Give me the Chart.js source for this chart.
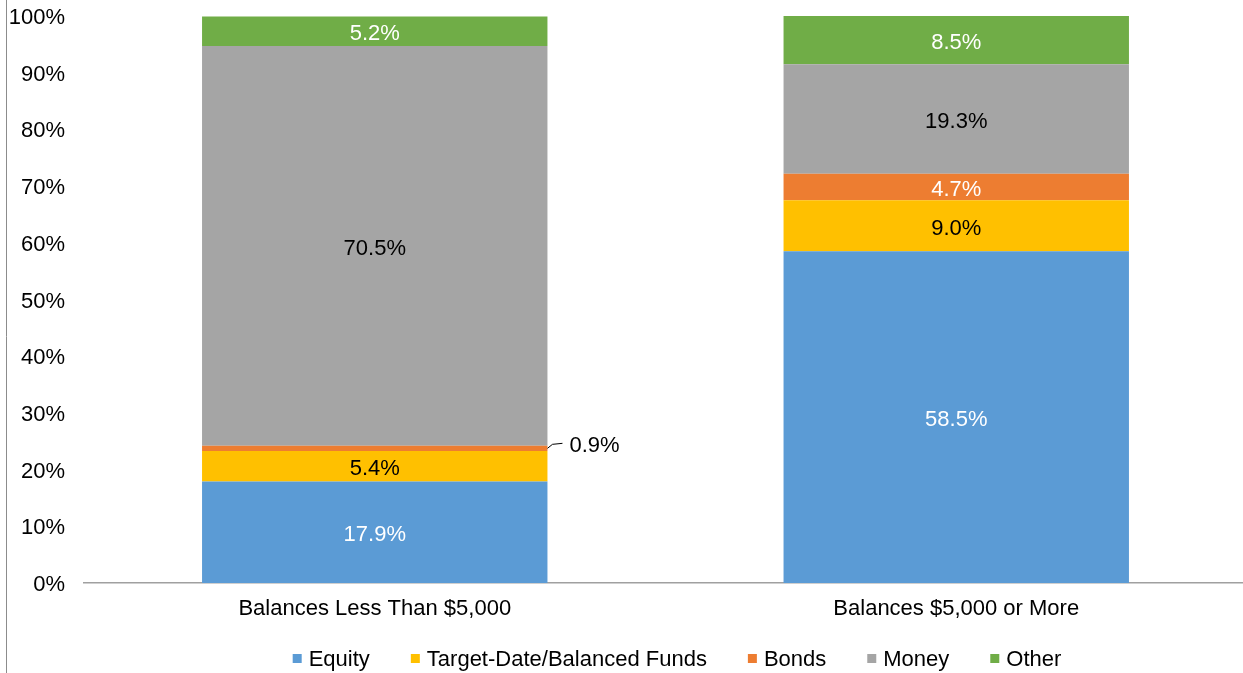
<!DOCTYPE html>
<html>
<head>
<meta charset="utf-8">
<script src="https://cdn.jsdelivr.net/npm/chart.js@4"></script>
<style>
  html, body { margin: 0; padding: 0; background: #fff; overflow: hidden; }
  #wrap { width: 1243px; height: 673px; overflow: hidden; }
</style>
</head>
<body>
<div id="wrap"><canvas id="assetChart" width="1247" height="673"></canvas></div>
<script>
// Asset allocation by account balance (percent of assets)
const categories = ["Balances Less Than $5,000", "Balances $5,000 or More"];
const seriesNames = ["Equity", "Target-Date/Balanced Funds", "Bonds", "Money", "Other"];
const equity = [17.9, 58.5];
const targetDate = [5.4, 9.0];
const bonds = [0.9, 4.7];
const money = [70.5, 19.3];
const other = [5.2, 8.5];
const seriesColors = ["#5b9bd5", "#ffc000", "#ed7d31", "#a5a5a5", "#70ad47"];
const labelColors = ["#ffffff", "#000000", "#ffffff", "#000000", "#ffffff"];
const yTickValues = [0, 10, 20, 30, 40, 50, 60, 70, 80, 90, 100];

const FONT = "'Liberation Sans', Arial, sans-serif";
const FONT_SIZE = 22;

// labels inside each segment; thin segments get a leader line to the right
const segmentLabels = {
  id: "segmentLabels",
  afterDatasetsDraw(chart) {
    const ctx = chart.ctx;
    ctx.save();
    ctx.font = FONT_SIZE + "px " + FONT;
    chart.data.datasets.forEach((ds, i) => {
      const meta = chart.getDatasetMeta(i);
      meta.data.forEach((bar, j) => {
        const text = ds.data[j].toFixed(1) + "%";
        const cy = (bar.y + bar.base) / 2;
        const h = Math.abs(bar.base - bar.y);
        if (h < 12) {
          const right = bar.x + bar.width / 2;
          ctx.strokeStyle = "#000";
          ctx.lineWidth = 1;
          ctx.beginPath();
          ctx.moveTo(right, cy);
          ctx.lineTo(right + 5, cy - 4);
          ctx.lineTo(right + 15, cy - 5);
          ctx.stroke();
          ctx.fillStyle = "#000";
          ctx.textAlign = "left";
          ctx.textBaseline = "middle";
          ctx.fillText(text, right + 22, cy - 2);
        } else {
          ctx.fillStyle = labelColors[i];
          ctx.textAlign = "center";
          ctx.textBaseline = "middle";
          ctx.fillText(text, bar.x, cy + 3);
        }
      });
    });
    ctx.restore();
  }
};

// legend row along the bottom plus the thin frame line on the left
const bottomLegend = {
  id: "bottomLegend",
  afterDraw(chart) {
    const ctx = chart.ctx;
    ctx.save();
    ctx.strokeStyle = "#8c8c8c";
    ctx.lineWidth = 1;
    ctx.beginPath();
    ctx.moveTo(6.5, 0);
    ctx.lineTo(6.5, chart.height);
    ctx.stroke();

    ctx.font = FONT_SIZE + "px " + FONT;
    const box = 9, gapText = 7, gapItem = 41;
    const widths = seriesNames.map(n => ctx.measureText(n).width);
    const total = widths.reduce((a, w) => a + box + gapText + w, 0) + gapItem * (seriesNames.length - 1);
    let x = 677 - total / 2;
    const cy = 659;
    ctx.textAlign = "left";
    ctx.textBaseline = "middle";
    seriesNames.forEach((n, i) => {
      ctx.fillStyle = seriesColors[i];
      ctx.fillRect(x, cy - 5, box, box);
      ctx.fillStyle = "#000";
      ctx.fillText(n, x + box + gapText, cy + 1);
      x += box + gapText + widths[i] + gapItem;
    });
    ctx.restore();
  }
};

const seriesData = [equity, targetDate, bonds, money, other];

new Chart(document.getElementById("assetChart"), {
  type: "bar",
  data: {
    labels: categories,
    datasets: seriesNames.map((name, i) => ({
      label: name,
      data: seriesData[i],
      backgroundColor: seriesColors[i],
      borderWidth: 0,
      categoryPercentage: 1,
      barPercentage: 0.594
    }))
  },
  options: {
    responsive: false,
    animation: false,
    layout: { padding: { top: 16, right: 0, bottom: 40, left: 0 } },
    plugins: {
      legend: { display: false },
      tooltip: { enabled: false }
    },
    scales: {
      x: {
        stacked: true,
        grid: { display: false, drawTicks: false },
        border: { display: true, color: "#a0a0a0", width: 1.5 },
        ticks: { color: "#000", padding: 13, font: { family: FONT, size: FONT_SIZE } },
        afterFit(scale) {
          scale.height = 50;
          scale.paddingLeft = 0;
          scale.paddingRight = 0;
        }
      },
      y: {
        stacked: true,
        min: 0,
        max: 100,
        grid: { display: false, drawTicks: false },
        border: { display: false },
        afterBuildTicks(scale) { scale.ticks = yTickValues.map(v => ({ value: v })); },
        ticks: {
          color: "#000",
          padding: 19,
          labelOffset: 2,
          font: { family: FONT, size: FONT_SIZE },
          callback: v => v + "%"
        },
        afterFit(scale) {
          scale.width = 84;
          scale.paddingTop = 0;
          scale.paddingBottom = 0;
        }
      }
    }
  },
  plugins: [segmentLabels, bottomLegend]
});
</script>
</body>
</html>
